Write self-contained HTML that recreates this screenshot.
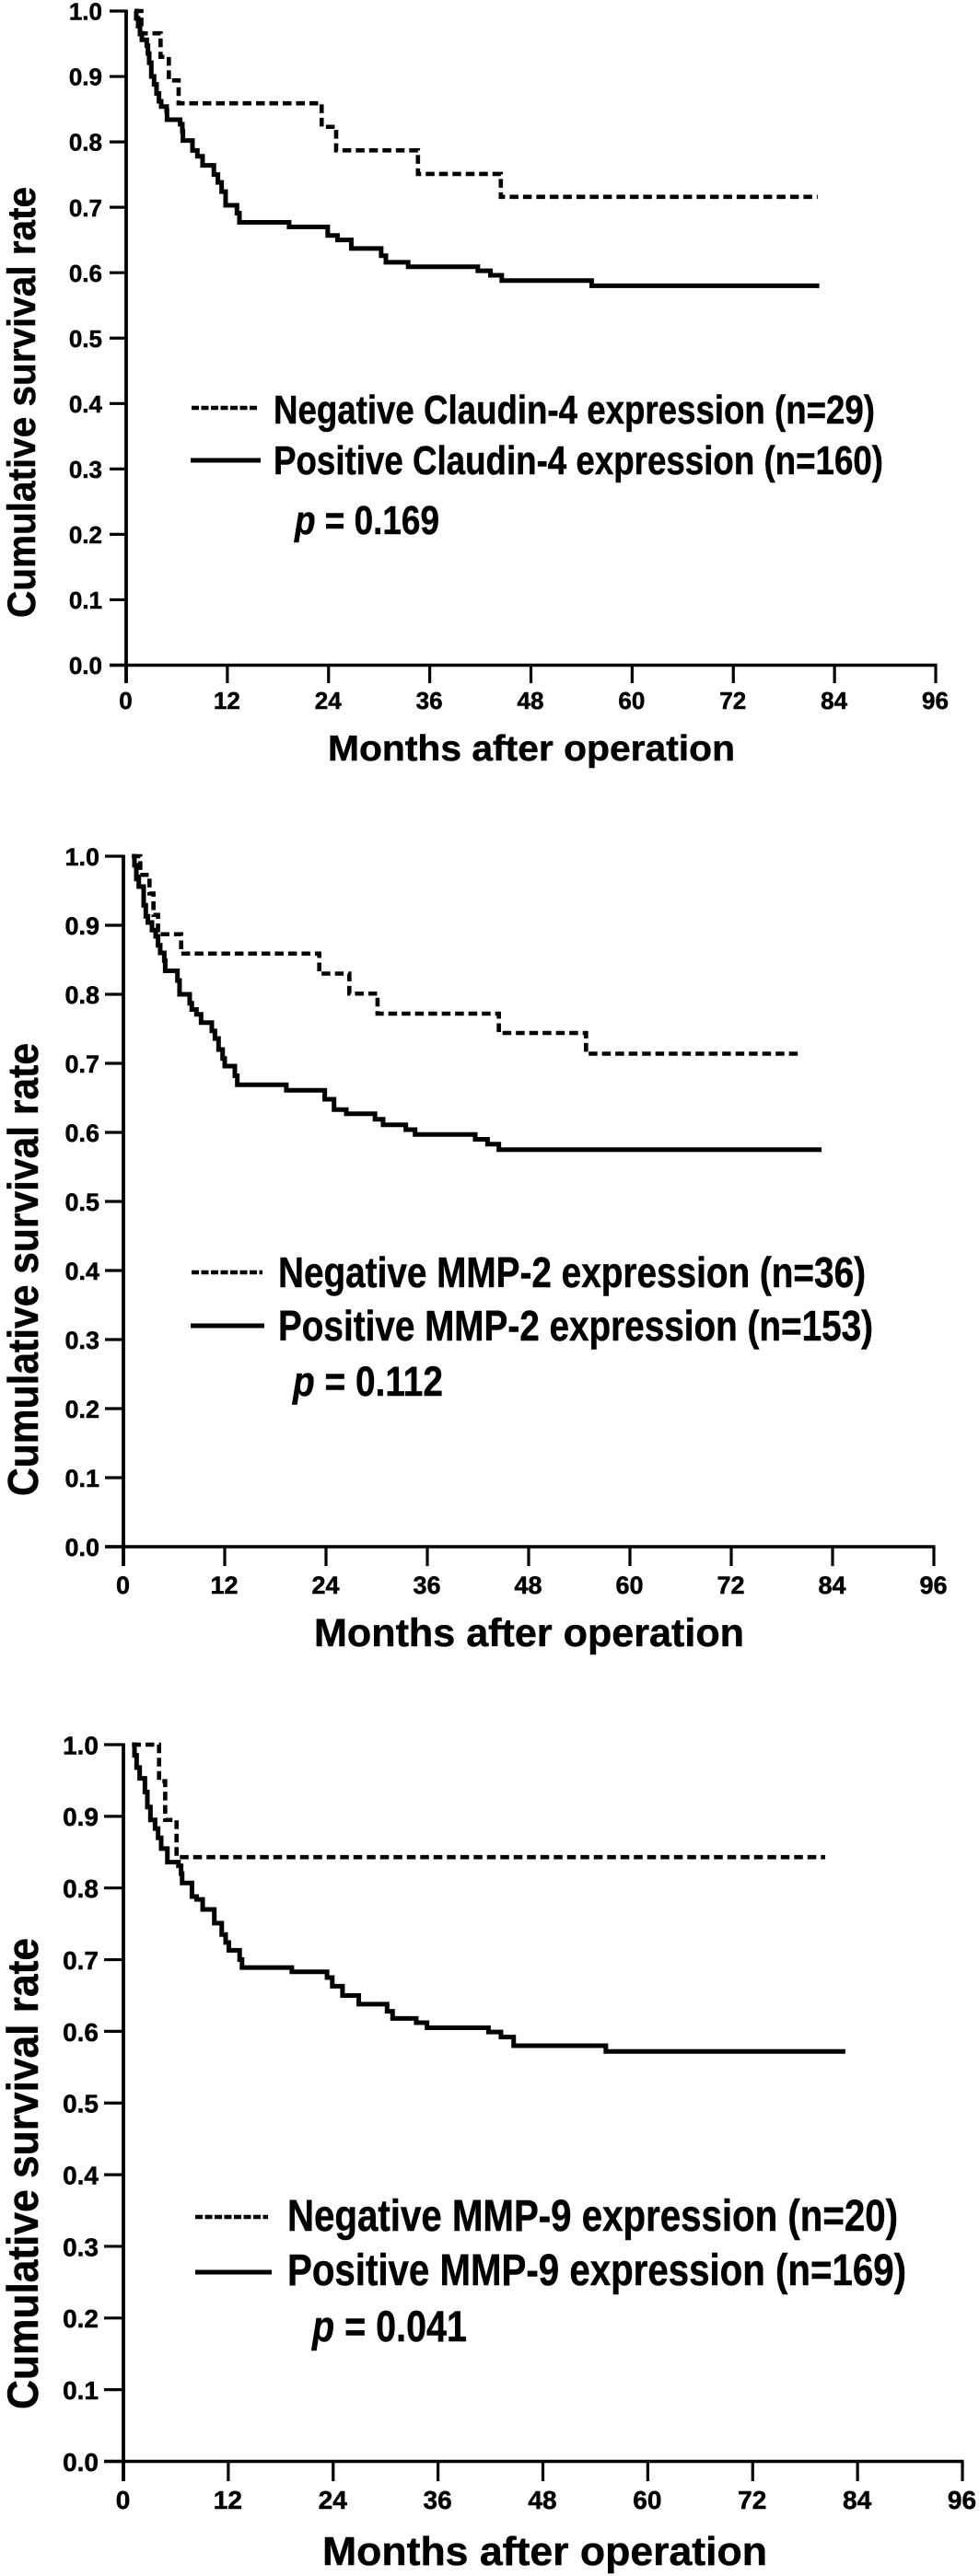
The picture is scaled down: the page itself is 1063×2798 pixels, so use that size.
<!DOCTYPE html>
<html lang="en">
<head>
<meta charset="utf-8">
<title>Cumulative survival curves</title>
<style>
html,body{margin:0;padding:0;background:#fff;}
svg{display:block;}
text{font-family:"Liberation Sans",Arial,sans-serif;font-weight:bold;fill:#000;stroke:#000;stroke-width:0.5px;}
</style>
</head>
<body>
<svg id="chart" xmlns="http://www.w3.org/2000/svg" width="1063" height="2798" viewBox="0 0 1063 2798">
  <rect x="0" y="0" width="1063" height="2798" fill="#fff"/>

  <g id="panel-1">
    <text transform="translate(38,671) rotate(-90)" font-size="43" textLength="468" lengthAdjust="spacingAndGlyphs">Cumulative survival rate</text>
    <text x="356" y="826" font-size="39" textLength="442" lengthAdjust="spacingAndGlyphs">Months after operation</text>
    <line x1="208" x2="281" y1="443" y2="443" stroke="#000" stroke-width="4.5" stroke-dasharray="8 2.5"/>
    <line x1="207" x2="283" y1="500" y2="500" stroke="#000" stroke-width="5"/>
    <text x="297" y="460" font-size="44" textLength="653" lengthAdjust="spacingAndGlyphs">Negative Claudin-4 expression (n=29)</text>
    <text x="297" y="515" font-size="44" textLength="662" lengthAdjust="spacingAndGlyphs">Positive Claudin-4 expression (n=160)</text>
    <text x="320" y="580" font-size="44" textLength="157" lengthAdjust="spacingAndGlyphs"><tspan font-style="italic">p</tspan> = 0.169</text>
  </g>

  <g id="panel-2">
    <text transform="translate(41,1625) rotate(-90)" font-size="46" textLength="492" lengthAdjust="spacingAndGlyphs">Cumulative survival rate</text>
    <text x="341" y="1788" font-size="43" textLength="467" lengthAdjust="spacingAndGlyphs">Months after operation</text>
    <line x1="208" x2="285" y1="1382" y2="1382" stroke="#000" stroke-width="4.5" stroke-dasharray="8 2.5"/>
    <line x1="207" x2="287" y1="1440" y2="1440" stroke="#000" stroke-width="5"/>
    <text x="302" y="1398" font-size="46" textLength="638" lengthAdjust="spacingAndGlyphs">Negative MMP-2 expression (n=36)</text>
    <text x="302" y="1456" font-size="46" textLength="646" lengthAdjust="spacingAndGlyphs">Positive MMP-2 expression (n=153)</text>
    <text x="318" y="1516" font-size="45" textLength="163" lengthAdjust="spacingAndGlyphs"><tspan font-style="italic">p</tspan> = 0.112</text>
  </g>

  <g id="panel-3">
    <text transform="translate(41,2617) rotate(-90)" font-size="47" textLength="512" lengthAdjust="spacingAndGlyphs">Cumulative survival rate</text>
    <text x="350" y="2786" font-size="44" textLength="483" lengthAdjust="spacingAndGlyphs">Months after operation</text>
    <line x1="212" x2="291" y1="2408" y2="2408" stroke="#000" stroke-width="4.5" stroke-dasharray="8 2.5"/>
    <line x1="212" x2="295" y1="2468" y2="2468" stroke="#000" stroke-width="5"/>
    <text x="312" y="2423" font-size="48" textLength="663" lengthAdjust="spacingAndGlyphs">Negative MMP-9 expression (n=20)</text>
    <text x="312" y="2482" font-size="48" textLength="672" lengthAdjust="spacingAndGlyphs">Positive MMP-9 expression (n=169)</text>
    <text x="339" y="2543" font-size="47" textLength="168" lengthAdjust="spacingAndGlyphs"><tspan font-style="italic">p</tspan> = 0.041</text>
  </g>
</svg>

<script>
const xTickValues = [0, 12, 24, 36, 48, 60, 72, 84, 96];
const xTickLabels = ['0', '12', '24', '36', '48', '60', '72', '84', '96'];
const yTickValues = [0, 0.1, 0.2, 0.3, 0.4, 0.5, 0.6, 0.7, 0.8, 0.9, 1];
const yTickLabels = ['0.0', '0.1', '0.2', '0.3', '0.4', '0.5', '0.6', '0.7', '0.8', '0.9', '1.0'];

const claudinNegMonths = [1.0, 1.8, 4.08, 5.06, 6.22, 23.18, 24.9, 34.6, 44.43];
const claudinNegSurvival = [1, 0.966, 0.93, 0.894, 0.859, 0.823, 0.787, 0.751, 0.716];
const claudinNegEnd = 82;

const claudinPosMonths = [1.0, 1.2, 1.42, 1.64, 1.86, 2.44, 2.58, 2.73, 2.98, 3.31, 3.6, 3.89, 4.15, 4.8, 4.84, 6.4, 6.66, 6.73, 7.86, 8.44, 9.06, 10.4, 10.88, 11.32, 11.79, 13.14, 13.43, 19.32, 23.9, 25.07, 26.7, 30.24, 30.8, 33.44, 41.7, 43.2, 44.54, 55.2];
const claudinPosSurvival = [1, 0.989, 0.977, 0.965, 0.956, 0.947, 0.935, 0.921, 0.9, 0.888, 0.874, 0.862, 0.854, 0.848, 0.834, 0.827, 0.816, 0.802, 0.787, 0.778, 0.764, 0.75, 0.738, 0.724, 0.703, 0.691, 0.677, 0.67, 0.657, 0.65, 0.637, 0.626, 0.616, 0.609, 0.603, 0.596, 0.588, 0.58];
const claudinPosEnd = 82.2;

const mmp2NegMonths = [1.0, 2.0, 3.09, 3.56, 4.1, 6.84, 23.2, 26.76, 30.1, 44.47, 54.8];
const mmp2NegSurvival = [1, 0.973, 0.946, 0.915, 0.887, 0.859, 0.83, 0.801, 0.772, 0.744, 0.714];
const mmp2NegEnd = 80.4;

const mmp2PosMonths = [1.02, 1.31, 1.53, 1.82, 2.4, 2.65, 2.9, 3.38, 3.82, 4.1, 4.36, 4.84, 4.95, 6.4, 6.65, 7.85, 8.1, 8.65, 9.2, 10.47, 10.84, 11.27, 11.75, 12, 13.2, 13.49, 19.3, 23.85, 24.95, 26.4, 29.8, 30.76, 33.45, 34.55, 41.67, 43.13, 44.47];
const mmp2PosSurvival = [1, 0.987, 0.967, 0.956, 0.929, 0.913, 0.904, 0.893, 0.884, 0.871, 0.86, 0.849, 0.834, 0.82, 0.8, 0.787, 0.778, 0.771, 0.759, 0.747, 0.736, 0.72, 0.707, 0.696, 0.682, 0.669, 0.661, 0.648, 0.633, 0.627, 0.619, 0.611, 0.604, 0.597, 0.59, 0.583, 0.575];
const mmp2PosEnd = 82.7;

const mmp9NegMonths = [1.0, 4.08, 4.78, 6.08];
const mmp9NegSurvival = [1, 0.949, 0.895, 0.843];
const mmp9NegEnd = 80.3;

const mmp9PosMonths = [0.98, 1.27, 1.51, 1.86, 2.46, 2.74, 3.09, 3.62, 3.97, 4.32, 5.03, 6.3, 6.6, 6.72, 7.84, 8.37, 9.07, 10.4, 11.25, 11.7, 12.06, 13.3, 13.57, 19.27, 23.3, 23.9, 25.07, 26.93, 30.17, 30.8, 33.5, 34.74, 41.77, 43.2, 44.65, 55.2];
const mmp9PosSurvival = [1, 0.985, 0.968, 0.953, 0.934, 0.913, 0.895, 0.883, 0.87, 0.855, 0.836, 0.831, 0.82, 0.807, 0.788, 0.784, 0.77, 0.751, 0.735, 0.724, 0.713, 0.7, 0.689, 0.683, 0.675, 0.663, 0.65, 0.638, 0.628, 0.618, 0.612, 0.605, 0.599, 0.592, 0.58, 0.572];
const mmp9PosEnd = 82.6;

const NS = 'http://www.w3.org/2000/svg';

function drawPanel(groupId, geo, negMonths, negSurvival, negEnd, posMonths, posSurvival, posEnd) {
  const group = document.getElementById(groupId);
  const xScale = function (m) { return geo.x0 + (m / 96) * (geo.x96 - geo.x0); };
  const yScale = function (s) { return geo.y0 - s * (geo.y0 - geo.y1); };

  const yAxis = document.createElementNS(NS, 'line');
  
  
  yAxis.setAttribute('x1', geo.x0);
  yAxis.setAttribute('x2', geo.x0);
  yAxis.setAttribute('y1', yScale(1) - 1.5);
  yAxis.setAttribute('y2', geo.y0 + geo.xTickLen);
  yAxis.setAttribute('stroke', '#000');
  yAxis.setAttribute('stroke-width', '3.8');
  group.appendChild(yAxis);

  const xAxis = document.createElementNS(NS, 'line');
  
  
  xAxis.setAttribute('x1', geo.x0 - geo.yTickLen);
  xAxis.setAttribute('x2', xScale(96) + 1.5);
  xAxis.setAttribute('y1', geo.y0);
  xAxis.setAttribute('y2', geo.y0);
  xAxis.setAttribute('stroke', '#000');
  xAxis.setAttribute('stroke-width', '3.6');
  group.appendChild(xAxis);

  yTickValues.forEach(function (value, i) {
    const tick = document.createElementNS(NS, 'line');
    
    
    tick.setAttribute('x1', geo.x0 - geo.yTickLen);
    tick.setAttribute('x2', geo.x0);
    tick.setAttribute('y1', yScale(value));
    tick.setAttribute('y2', yScale(value));
    tick.setAttribute('stroke', '#000');
    tick.setAttribute('stroke-width', '3.2');
    group.appendChild(tick);

    const label = document.createElementNS(NS, 'text');
    
    
    label.setAttribute('x', geo.yLabelX);
    label.setAttribute('y', yScale(value) + geo.tickFont * 0.37);
    label.setAttribute('text-anchor', 'end');
    label.setAttribute('font-size', geo.tickFont);
    label.textContent = yTickLabels[i];
    group.appendChild(label);
  });

  xTickValues.forEach(function (value, i) {
    const tick = document.createElementNS(NS, 'line');
    
    
    tick.setAttribute('x1', xScale(value));
    tick.setAttribute('x2', xScale(value));
    tick.setAttribute('y1', geo.y0);
    tick.setAttribute('y2', geo.y0 + geo.xTickLen);
    tick.setAttribute('stroke', '#000');
    tick.setAttribute('stroke-width', '3.2');
    group.appendChild(tick);

    const label = document.createElementNS(NS, 'text');
    
    
    label.setAttribute('x', xScale(value) - 0.5);
    label.setAttribute('y', geo.xLabelY);
    label.setAttribute('text-anchor', 'middle');
    label.setAttribute('font-size', geo.tickFont);
    label.textContent = xTickLabels[i];
    group.appendChild(label);
  });

  const stepPath = function (months, survival, end) {
    let d = 'M' + xScale(months[0]).toFixed(2) + ' ' + yScale(survival[0]).toFixed(2);
    for (let i = 1; i < months.length; i++) {
      d += 'H' + xScale(months[i]).toFixed(2) + 'V' + yScale(survival[i]).toFixed(2);
    }
    return d + 'H' + xScale(end).toFixed(2);
  };

  const neg = document.createElementNS(NS, 'path');
  
  
  neg.setAttribute('d', stepPath(negMonths, negSurvival, negEnd));
  neg.setAttribute('fill', 'none');
  neg.setAttribute('stroke', '#000');
  neg.setAttribute('stroke-width', '4.6');
  neg.setAttribute('stroke-dasharray', '9.5 5');
  group.appendChild(neg);

  const pos = document.createElementNS(NS, 'path');
  
  
  pos.setAttribute('d', stepPath(posMonths, posSurvival, posEnd));
  pos.setAttribute('fill', 'none');
  pos.setAttribute('stroke', '#000');
  pos.setAttribute('stroke-width', '5');
  group.appendChild(pos);
}

drawPanel('panel-1', {x0: 137, x96: 1016, y0: 722.5, y1: 12, yTickLen: 18, xTickLen: 19.5, yLabelX: 111, xLabelY: 770, tickFont: 26},
  claudinNegMonths, claudinNegSurvival, claudinNegEnd, claudinPosMonths, claudinPosSurvival, claudinPosEnd);
drawPanel('panel-2', {x0: 134, x96: 1014, y0: 1680, y1: 930, yTickLen: 20, xTickLen: 21, yLabelX: 108, xLabelY: 1731, tickFont: 27},
  mmp2NegMonths, mmp2NegSurvival, mmp2NegEnd, mmp2PosMonths, mmp2PosSurvival, mmp2PosEnd);
drawPanel('panel-3', {x0: 134, x96: 1045, y0: 2673.5, y1: 1895, yTickLen: 21, xTickLen: 21.5, yLabelX: 107, xLabelY: 2725, tickFont: 28},
  mmp9NegMonths, mmp9NegSurvival, mmp9NegEnd, mmp9PosMonths, mmp9PosSurvival, mmp9PosEnd);
</script>
</body>
</html>
